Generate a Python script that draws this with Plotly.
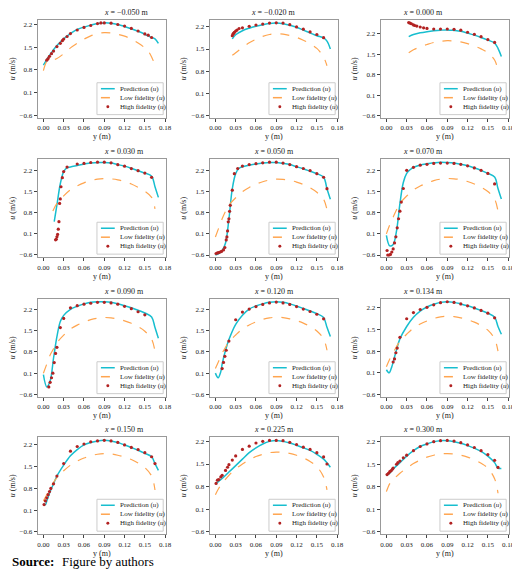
import plotly.graph_objects as go

titles = ["−0.050", "−0.020", "0.000", "0.030", "0.050", "0.070",
          "0.090", "0.120", "0.134", "0.150", "0.225", "0.300"]

pred_y = [
 [0,.01,.02,.03,.04,.05,.06,.07,.08,.09,.10,.11,.12,.13,.14,.15,.16,.165,.17],
 [.025,.03,.04,.05,.06,.07,.08,.09,.10,.11,.12,.13,.14,.15,.16,.165,.17],
 [.033,.04,.05,.06,.07,.08,.09,.10,.11,.12,.13,.14,.15,.16,.165,.17],
 [.016,.02,.025,.03,.035,.04,.05,.06,.07,.08,.09,.10,.11,.12,.13,.14,.15,.16,.165,.17],
 [0,.005,.01,.015,.02,.025,.03,.035,.04,.05,.06,.07,.08,.09,.10,.11,.12,.13,.14,.15,.16,.165,.17],
 [0,.005,.01,.015,.02,.025,.03,.035,.04,.05,.06,.07,.08,.09,.10,.11,.12,.13,.14,.15,.16,.165,.17],
 [0,.005,.01,.015,.02,.025,.03,.04,.05,.06,.07,.08,.09,.10,.11,.12,.13,.14,.15,.16,.165,.17],
 [0,.004,.008,.01,.015,.02,.03,.04,.05,.06,.07,.08,.09,.10,.11,.12,.13,.14,.15,.16,.165,.17],
 [0,.004,.008,.01,.015,.02,.03,.04,.05,.06,.07,.08,.09,.10,.11,.12,.13,.14,.15,.16,.165,.17],
 [0,.003,.005,.01,.015,.02,.03,.04,.05,.06,.07,.08,.09,.10,.11,.12,.13,.14,.15,.16,.165,.17],
 [0,.01,.02,.03,.04,.05,.06,.07,.08,.09,.10,.11,.12,.13,.14,.15,.16,.17],
 [0,.005,.01,.02,.03,.04,.05,.06,.07,.08,.09,.10,.11,.12,.13,.14,.15,.16,.165,.17],
]
pred_u = [
 [0.95,1.28,1.55,1.76,1.92,2.05,2.12,2.18,2.23,2.25,2.24,2.2,2.14,2.07,1.99,1.9,1.8,1.76,1.62],
 [1.82,1.95,2.08,2.16,2.22,2.27,2.31,2.32,2.3,2.25,2.19,2.1,2.01,1.92,1.85,1.75,1.5],
 [2.1,2.17,2.23,2.27,2.3,2.32,2.33,2.31,2.28,2.22,2.15,2.07,1.98,1.88,1.7,1.42],
 [0.5,1.05,1.75,2.15,2.28,2.3,2.35,2.4,2.43,2.45,2.45,2.43,2.38,2.33,2.26,2.18,2.1,2.0,1.65,1.3],
 [-0.6,-0.55,-0.45,-0.2,0.6,1.6,2.1,2.28,2.33,2.38,2.42,2.45,2.47,2.47,2.44,2.4,2.33,2.26,2.18,2.1,1.98,1.6,1.25],
 [0.05,-0.3,-0.25,0.2,1.1,1.8,2.1,2.22,2.3,2.38,2.42,2.45,2.47,2.46,2.44,2.4,2.35,2.28,2.2,2.1,1.98,1.6,1.25],
 [0.05,-0.35,-0.15,0.6,1.3,1.8,2.0,2.2,2.3,2.38,2.43,2.45,2.45,2.43,2.38,2.32,2.25,2.17,2.08,1.95,1.6,1.25],
 [0.1,-0.05,0.15,0.4,0.85,1.2,1.7,2.0,2.2,2.3,2.37,2.42,2.44,2.42,2.37,2.3,2.22,2.14,2.05,1.92,1.6,1.3],
 [0.2,0.1,0.3,0.45,0.85,1.2,1.6,1.9,2.1,2.23,2.32,2.38,2.4,2.38,2.33,2.27,2.2,2.12,2.03,1.9,1.6,1.35],
 [0.3,0.28,0.4,0.7,0.95,1.2,1.55,1.85,2.05,2.2,2.28,2.33,2.35,2.33,2.28,2.2,2.12,2.03,1.93,1.82,1.6,1.38],
 [0.88,1.05,1.25,1.45,1.65,1.85,2.0,2.12,2.2,2.23,2.2,2.15,2.08,2.0,1.92,1.8,1.65,1.4],
 [1.15,1.22,1.35,1.55,1.75,1.92,2.05,2.13,2.2,2.23,2.23,2.2,2.15,2.08,2.0,1.9,1.75,1.55,1.38,1.37],
]

hf_y = [
 [.005,.007,.009,.012,.015,.02,.025,.028,.03,.035,.04,.05,.06,.07,.08,.085,.09,.10,.11,.12,.13,.14,.15,.155,.16],
 [.025,.026,.027,.028,.03,.032,.035,.04,.05,.06,.07,.08,.09,.10,.11,.12,.13,.14,.15,.16],
 [.033,.035,.037,.04,.042,.045,.05,.055,.06,.07,.08,.09,.10,.11,.12,.13,.14,.15,.16],
 [.018,.019,.02,.021,.022,.023,.024,.025,.026,.028,.03,.035,.05,.06,.07,.08,.09,.10,.11,.12,.13,.14,.15,.16],
 [.001,.003,.005,.007,.009,.012,.014,.016,.017,.018,.019,.02,.021,.022,.025,.028,.033,.04,.05,.06,.07,.08,.09,.10,.11,.12,.13,.14,.15,.16,.165],
 [.001,.002,.004,.006,.008,.01,.012,.014,.016,.018,.02,.022,.025,.03,.04,.05,.06,.07,.08,.09,.10,.11,.12,.13,.14,.15,.16],
 [.008,.01,.012,.014,.016,.018,.02,.025,.03,.04,.05,.06,.07,.08,.09,.10,.11,.12,.13,.14,.15],
 [.01,.012,.014,.016,.02,.03,.04,.05,.06,.07,.08,.09,.10,.11,.12,.13,.14,.15,.16],
 [.01,.012,.014,.016,.02,.03,.04,.05,.06,.07,.08,.09,.10,.11,.12,.13,.14,.15,.16],
 [.001,.003,.005,.007,.009,.011,.015,.02,.03,.04,.05,.06,.07,.08,.09,.10,.11,.12,.13,.14,.15,.16,.165],
 [.001,.003,.005,.008,.01,.015,.018,.02,.025,.03,.04,.05,.06,.07,.08,.09,.10,.11,.12,.13,.14,.15,.16,.165],
 [.001,.003,.005,.007,.009,.01,.015,.017,.02,.025,.03,.04,.05,.06,.07,.08,.09,.10,.11,.12,.13,.14,.15,.16,.165],
]
hf_u = [
 [1.1,1.15,1.22,1.3,1.38,1.52,1.62,1.7,1.75,1.83,1.92,2.03,2.11,2.17,2.23,2.25,2.25,2.24,2.2,2.15,2.08,2.0,1.91,1.87,1.8],
 [1.92,1.97,2.0,2.03,2.07,2.1,2.15,2.17,2.22,2.26,2.29,2.32,2.33,2.32,2.27,2.2,2.13,2.04,1.96,1.86],
 [2.58,2.56,2.54,2.5,2.48,2.46,2.43,2.4,2.38,2.36,2.36,2.36,2.35,2.32,2.25,2.18,2.1,2.0,1.9],
 [-0.1,-0.08,0.0,0.08,0.25,0.5,1.1,1.25,1.65,1.95,2.15,2.3,2.4,2.42,2.45,2.46,2.46,2.44,2.38,2.33,2.25,2.18,2.1,1.96],
 [-0.55,-0.53,-0.52,-0.5,-0.48,-0.43,-0.35,-0.1,0.0,0.2,0.5,0.6,0.85,1.05,1.55,2.1,2.27,2.35,2.4,2.43,2.46,2.48,2.48,2.45,2.4,2.33,2.27,2.2,2.1,1.98,1.6],
 [-0.45,-0.6,-0.6,-0.58,-0.5,-0.4,-0.2,0.0,0.3,0.6,0.85,1.15,1.6,2.2,2.3,2.37,2.4,2.43,2.44,2.44,2.43,2.4,2.35,2.28,2.2,2.1,1.75],
 [-0.35,-0.2,-0.05,0.1,0.45,0.75,0.95,1.6,1.9,2.25,2.32,2.37,2.4,2.43,2.43,2.41,2.37,2.3,2.22,2.12,2.02],
 [0.25,0.45,0.65,0.85,1.15,1.85,2.1,2.2,2.28,2.35,2.4,2.43,2.4,2.35,2.28,2.2,2.12,2.03,1.88],
 [0.45,0.55,0.75,0.9,1.25,1.85,2.05,2.15,2.22,2.3,2.37,2.4,2.38,2.33,2.27,2.2,2.12,2.03,1.88],
 [0.28,0.4,0.5,0.6,0.7,0.8,0.95,1.2,1.6,2.0,2.15,2.23,2.3,2.33,2.35,2.33,2.28,2.2,2.12,2.05,1.95,1.82,1.6],
 [0.9,1.0,1.02,1.1,1.15,1.3,1.4,1.48,1.62,1.75,1.95,2.05,2.15,2.2,2.23,2.23,2.22,2.17,2.1,2.02,1.95,1.85,1.72,1.5],
 [1.18,1.22,1.27,1.3,1.35,1.38,1.5,1.55,1.6,1.7,1.78,1.92,2.05,2.13,2.2,2.23,2.24,2.22,2.17,2.1,2.02,1.92,1.8,1.62,1.4],
]

lf_y = [
 [0,.005,.01,.02,.03,.04,.05,.06,.07,.08,.09,.10,.11,.12,.13,.14,.15,.155,.16,.165],
 [.025,.03,.04,.05,.06,.07,.08,.09,.10,.11,.12,.13,.14,.15,.155,.16,.165],
 [.033,.04,.05,.06,.07,.08,.09,.10,.11,.12,.13,.14,.15,.16,.165],
 [.014,.02,.03,.04,.05,.06,.07,.08,.09,.10,.11,.12,.13,.14,.15,.16,.165],
 [0,.005,.01,.015,.02,.03,.04,.05,.06,.07,.08,.09,.10,.11,.12,.13,.14,.15,.16,.165],
 [0,.005,.01,.015,.02,.03,.04,.05,.06,.07,.08,.09,.10,.11,.12,.13,.14,.15,.16,.165],
 [0,.005,.01,.015,.02,.03,.04,.05,.06,.07,.08,.09,.10,.11,.12,.13,.14,.15,.16,.165],
 [0,.005,.01,.015,.02,.03,.04,.05,.06,.07,.08,.09,.10,.11,.12,.13,.14,.15,.16,.165],
 [0,.005,.01,.015,.02,.03,.04,.05,.06,.07,.08,.09,.10,.11,.12,.13,.14,.15,.16,.165],
 [0,.005,.01,.015,.02,.03,.04,.05,.06,.07,.08,.09,.10,.11,.12,.13,.14,.15,.16,.165],
 [0,.005,.01,.02,.03,.04,.05,.06,.07,.08,.09,.10,.11,.12,.13,.14,.15,.16,.165],
 [0,.005,.01,.02,.03,.04,.05,.06,.07,.08,.09,.10,.11,.12,.13,.14,.15,.16,.165],
]
lf_u = [
 [0.78,1.05,1.08,1.15,1.3,1.48,1.62,1.75,1.85,1.92,1.95,1.94,1.9,1.84,1.75,1.63,1.48,1.38,1.2,0.95],
 [1.3,1.38,1.55,1.7,1.81,1.9,1.96,1.98,1.97,1.93,1.87,1.78,1.67,1.52,1.4,1.25,0.97],
 [1.55,1.65,1.75,1.83,1.9,1.94,1.96,1.95,1.92,1.86,1.78,1.68,1.55,1.3,0.95],
 [0.85,1.1,1.35,1.55,1.68,1.78,1.85,1.9,1.92,1.91,1.88,1.82,1.74,1.63,1.5,1.3,0.92],
 [0.0,0.3,0.6,0.85,1.05,1.3,1.5,1.64,1.75,1.83,1.89,1.92,1.91,1.88,1.82,1.74,1.63,1.48,1.25,0.9],
 [0.1,0.4,0.65,0.9,1.1,1.35,1.55,1.68,1.78,1.86,1.91,1.93,1.92,1.89,1.83,1.75,1.64,1.5,1.25,0.85],
 [0.1,0.4,0.7,0.9,1.1,1.35,1.55,1.68,1.78,1.86,1.91,1.93,1.92,1.88,1.82,1.74,1.63,1.48,1.22,0.82],
 [0.25,0.5,0.75,0.95,1.12,1.35,1.55,1.68,1.78,1.86,1.91,1.93,1.92,1.88,1.82,1.74,1.63,1.48,1.22,0.85],
 [0.3,0.55,0.75,0.95,1.12,1.35,1.55,1.68,1.78,1.86,1.91,1.93,1.92,1.88,1.82,1.74,1.63,1.48,1.2,0.8],
 [0.4,0.6,0.8,1.0,1.15,1.37,1.55,1.68,1.78,1.85,1.9,1.92,1.91,1.87,1.81,1.73,1.62,1.47,1.2,0.75],
 [0.55,0.75,0.9,1.15,1.35,1.5,1.63,1.73,1.8,1.85,1.87,1.86,1.83,1.77,1.69,1.58,1.42,1.1,0.7],
 [0.65,0.9,1.02,1.22,1.38,1.52,1.63,1.72,1.78,1.82,1.83,1.82,1.78,1.72,1.64,1.53,1.38,1.05,0.6],
]

legend_labels = ["Prediction (<i>u</i>)", "Low fidelity (<i>u</i>)", "High fidelity (<i>u</i>)"]

W, H = 520, 571
col_px = [(30, 160), (204, 334), (377, 507)]
row_px = [(12, 110), (152, 250), (292, 390), (431, 528)]
FONT = "Liberation Serif"
C_PRED, C_LF, C_HF = "#17BECF", "#FFA54F", "#B22222"

fig = go.Figure()
layout = dict(width=W, height=H, margin=dict(l=0, r=0, t=0, b=0), showlegend=False,
              paper_bgcolor="white", plot_bgcolor="white",
              font=dict(family=FONT, size=7, color="#222"))
annotations, shapes = [], []
px = lambda v: v / W
py = lambda v: 1 - v / H
for i in range(12):
    r, c = divmod(i, 3)
    L, R = col_px[c]
    T, B = row_px[r]
    x0, x1, y0, y1 = px(L), px(R), py(B), py(T)
    n = "" if i == 0 else str(i + 1)
    common = dict(xaxis="x" + n, yaxis="y" + n)
    fig.add_trace(go.Scatter(x=pred_y[i], y=pred_u[i], mode="lines", name=legend_labels[0],
                             line=dict(color=C_PRED, width=1.5), line_shape="spline", **common))
    fig.add_trace(go.Scatter(x=lf_y[i], y=lf_u[i], mode="lines", name=legend_labels[1],
                             line=dict(color=C_LF, width=1.2, dash="dash"), line_shape="spline", **common))
    fig.add_trace(go.Scatter(x=hf_y[i], y=hf_u[i], mode="markers", name=legend_labels[2],
                             marker=dict(color=C_HF, size=3.2), **common))
    ymax = max(max(pred_u[i]), max(hf_u[i])) + 0.09
    ax = dict(showgrid=False, zeroline=False, showline=True, mirror=True, linecolor="#999",
              linewidth=1, ticks="outside", ticklen=3, tickcolor="#444",
              tickfont=dict(size=7, family=FONT))
    layout["xaxis" + n] = dict(ax, domain=[x0, x1], range=[-0.0085, 0.1815],
                               tickvals=[0, .03, .06, .09, .12, .15, .18],
                               ticktext=["0.00", "0.03", "0.06", "0.09", "0.12", "0.15", "0.18"],
                               anchor="y" + n,
                               title=dict(text="y (m)", font=dict(size=8, family=FONT), standoff=2))
    layout["yaxis" + n] = dict(ax, domain=[y0, y1], range=[-0.67, ymax],
                               tickvals=[-0.6, 0.1, 0.8, 1.5, 2.2],
                               ticktext=["−0.6", "0.1", "0.8", "1.5", "2.2"],
                               anchor="x" + n,
                               title=dict(text="<i>u</i> (m/s)", font=dict(size=8, family=FONT), standoff=3))
    annotations.append(dict(x=(x0 + x1) / 2, y=y1, xref="paper", yref="paper", yanchor="bottom",
                            showarrow=False, yshift=1,
                            text=f"<i>x</i> = {titles[i]} m", font=dict(size=8, family=FONT)))
    shapes.append(dict(type="rect", xref="paper", yref="paper", x0=px(R - 70), x1=px(R - 3),
                       y0=py(B - 3), y1=py(B - 35), fillcolor="white", line=dict(color="#ccc", width=1)))
    for k in range(3):
        ey = B - 29 + 9 * k
        if k < 2:
            shapes.append(dict(type="line", xref="paper", yref="paper", x0=px(R - 66), x1=px(R - 52),
                               y0=py(ey), y1=py(ey),
                               line=dict(color=[C_PRED, C_LF][k], width=1.5, dash="solid" if k == 0 else "dash")))
        else:
            shapes.append(dict(type="circle", xref="paper", yref="paper", x0=px(R - 60.5), x1=px(R - 57.5),
                               y0=py(ey - 1.5), y1=py(ey + 1.5), fillcolor=C_HF, line=dict(width=0)))
        annotations.append(dict(x=px(R - 49), y=py(ey), xref="paper", yref="paper", xanchor="left",
                                yanchor="middle", showarrow=False, text=legend_labels[k],
                                font=dict(size=7, family=FONT)))
annotations.append(dict(x=0.003, y=py(555), xref="paper", yref="paper", xanchor="left",
                        yanchor="middle", showarrow=False,
                        text="<b>Source:</b>", font=dict(size=13, family=FONT, color="#000")))
annotations.append(dict(x=px(53), y=py(555), xref="paper", yref="paper", xanchor="left",
                        yanchor="middle", showarrow=False,
                        text="Figure by authors", font=dict(size=13, family=FONT, color="#000")))
layout["annotations"] = annotations
layout["shapes"] = shapes
fig.update_layout(**layout)
fig.write_html("out.html")
